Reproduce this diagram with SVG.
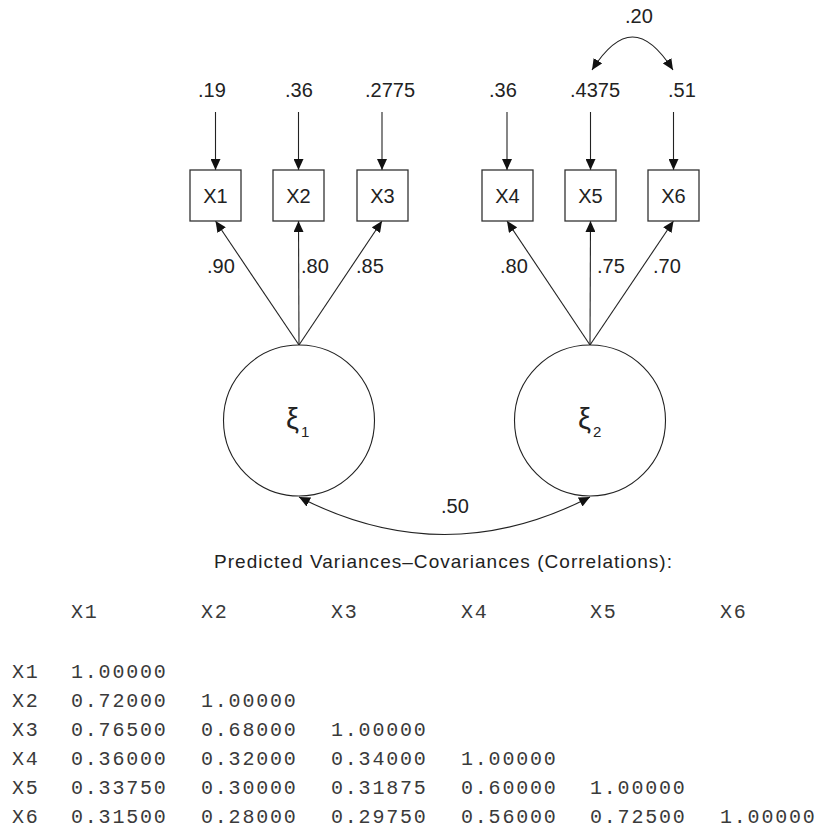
<svg xmlns="http://www.w3.org/2000/svg" width="820" height="830" viewBox="0 0 820 830">
<style>
.bg{fill:#ffffff}
.box{fill:#ffffff;stroke:#333;stroke-width:1.3}
.lat{fill:#ffffff;stroke:#222;stroke-width:1.1}
.edge{fill:none;stroke:#222;stroke-width:1.1}
.lbl{font-family:"Liberation Sans",Arial,sans-serif;font-size:20px;fill:#222}
.node{font-family:"Liberation Sans",Arial,sans-serif;font-size:20px;fill:#222;text-anchor:middle}
.greek{font-family:"Liberation Sans","DejaVu Sans",sans-serif;font-size:29px;fill:#222}
.sub{font-family:"Liberation Sans",Arial,sans-serif;font-size:15px;fill:#222}
.title{font-family:"Liberation Sans",Arial,sans-serif;font-size:19px;fill:#222}
.mono{font-family:"Liberation Mono","Courier New",monospace;font-size:20px;letter-spacing:1.8px;fill:#3a3a3a}
</style>
<defs>
<marker id="ah" viewBox="0 0 11 10" refX="11" refY="5" markerWidth="11" markerHeight="10" markerUnits="userSpaceOnUse" orient="auto-start-reverse">
<path d="M0,0 L11,5 L0,10 z" fill="#111"/>
</marker>
</defs>
<rect class="bg" x="0" y="0" width="820" height="830"/>

<g id="connectors">
<line class="edge" x1="215.5" y1="112" x2="215.5" y2="170" marker-end="url(#ah)"/>
<line class="edge" x1="298.5" y1="112" x2="298.5" y2="170" marker-end="url(#ah)"/>
<line class="edge" x1="382" y1="112" x2="382" y2="170" marker-end="url(#ah)"/>
<line class="edge" x1="507" y1="112" x2="507" y2="170" marker-end="url(#ah)"/>
<line class="edge" x1="590.5" y1="112" x2="590.5" y2="170" marker-end="url(#ah)"/>
<line class="edge" x1="673.5" y1="112" x2="673.5" y2="170" marker-end="url(#ah)"/>
<path class="edge" d="M592,70 C620,26 645,26 673,70" marker-start="url(#ah)" marker-end="url(#ah)"/>
<line class="edge" x1="299" y1="345" x2="215.5" y2="221" marker-end="url(#ah)"/>
<line class="edge" x1="299" y1="345" x2="298.5" y2="221" marker-end="url(#ah)"/>
<line class="edge" x1="299" y1="345" x2="382" y2="221" marker-end="url(#ah)"/>
<line class="edge" x1="590" y1="345" x2="507" y2="221" marker-end="url(#ah)"/>
<line class="edge" x1="590" y1="345" x2="590.5" y2="221" marker-end="url(#ah)"/>
<line class="edge" x1="590" y1="345" x2="673.5" y2="221" marker-end="url(#ah)"/>
<path class="edge" d="M299,497 Q444.5,572 590,497" marker-start="url(#ah)" marker-end="url(#ah)"/>
</g>

<g id="labels">
<text class="lbl" x="198" y="97">.19</text>
<text class="lbl" x="285" y="97">.36</text>
<text class="lbl" x="365" y="97">.2775</text>
<text class="lbl" x="489" y="97">.36</text>
<text class="lbl" x="570" y="97">.4375</text>
<text class="lbl" x="668" y="97">.51</text>
<text class="lbl" x="625" y="23">.20</text>
<text class="lbl" x="207" y="273">.90</text>
<text class="lbl" x="301" y="273">.80</text>
<text class="lbl" x="356" y="273">.85</text>
<text class="lbl" x="500" y="273">.80</text>
<text class="lbl" x="597" y="273">.75</text>
<text class="lbl" x="653" y="273">.70</text>
<text class="lbl" x="441" y="513">.50</text>
</g>

<g id="X1"><rect class="box" x="190" y="170" width="51" height="51"/><text class="node" x="215.5" y="203">X1</text></g>
<g id="X2"><rect class="box" x="273" y="170" width="51" height="51"/><text class="node" x="298.5" y="203">X2</text></g>
<g id="X3"><rect class="box" x="357" y="170" width="51" height="51"/><text class="node" x="382.5" y="203">X3</text></g>
<g id="X4"><rect class="box" x="482" y="170" width="51" height="51"/><text class="node" x="507.5" y="203">X4</text></g>
<g id="X5"><rect class="box" x="565" y="170" width="51" height="51"/><text class="node" x="590.5" y="203">X5</text></g>
<g id="X6"><rect class="box" x="648" y="170" width="51" height="51"/><text class="node" x="673.5" y="203">X6</text></g>

<g id="xi1"><circle class="lat" cx="299" cy="420.5" r="75.5"/><text class="greek" x="286" y="429">ξ</text><text class="sub" x="301" y="437">1</text></g>
<g id="xi2"><circle class="lat" cx="590" cy="420.5" r="75.5"/><text class="greek" x="578" y="429">ξ</text><text class="sub" x="593" y="437">2</text></g>

<g id="table">
<text class="title" x="214" y="568" textLength="458" lengthAdjust="spacing">Predicted Variances–Covariances (Correlations):</text>
<text class="mono" x="71" y="618">X1</text>
<text class="mono" x="201" y="618">X2</text>
<text class="mono" x="331" y="618">X3</text>
<text class="mono" x="461" y="618">X4</text>
<text class="mono" x="590" y="618">X5</text>
<text class="mono" x="720" y="618">X6</text>

<text class="mono" x="12" y="678">X1</text>
<text class="mono" x="71" y="678">1.00000</text>

<text class="mono" x="12" y="707">X2</text>
<text class="mono" x="71" y="707">0.72000</text>
<text class="mono" x="201" y="707">1.00000</text>

<text class="mono" x="12" y="736">X3</text>
<text class="mono" x="71" y="736">0.76500</text>
<text class="mono" x="201" y="736">0.68000</text>
<text class="mono" x="331" y="736">1.00000</text>

<text class="mono" x="12" y="765">X4</text>
<text class="mono" x="71" y="765">0.36000</text>
<text class="mono" x="201" y="765">0.32000</text>
<text class="mono" x="331" y="765">0.34000</text>
<text class="mono" x="461" y="765">1.00000</text>

<text class="mono" x="12" y="794">X5</text>
<text class="mono" x="71" y="794">0.33750</text>
<text class="mono" x="201" y="794">0.30000</text>
<text class="mono" x="331" y="794">0.31875</text>
<text class="mono" x="461" y="794">0.60000</text>
<text class="mono" x="590" y="794">1.00000</text>

<text class="mono" x="12" y="823">X6</text>
<text class="mono" x="71" y="823">0.31500</text>
<text class="mono" x="201" y="823">0.28000</text>
<text class="mono" x="331" y="823">0.29750</text>
<text class="mono" x="461" y="823">0.56000</text>
<text class="mono" x="590" y="823">0.72500</text>
<text class="mono" x="720" y="823">1.00000</text>
</g>
</svg>
